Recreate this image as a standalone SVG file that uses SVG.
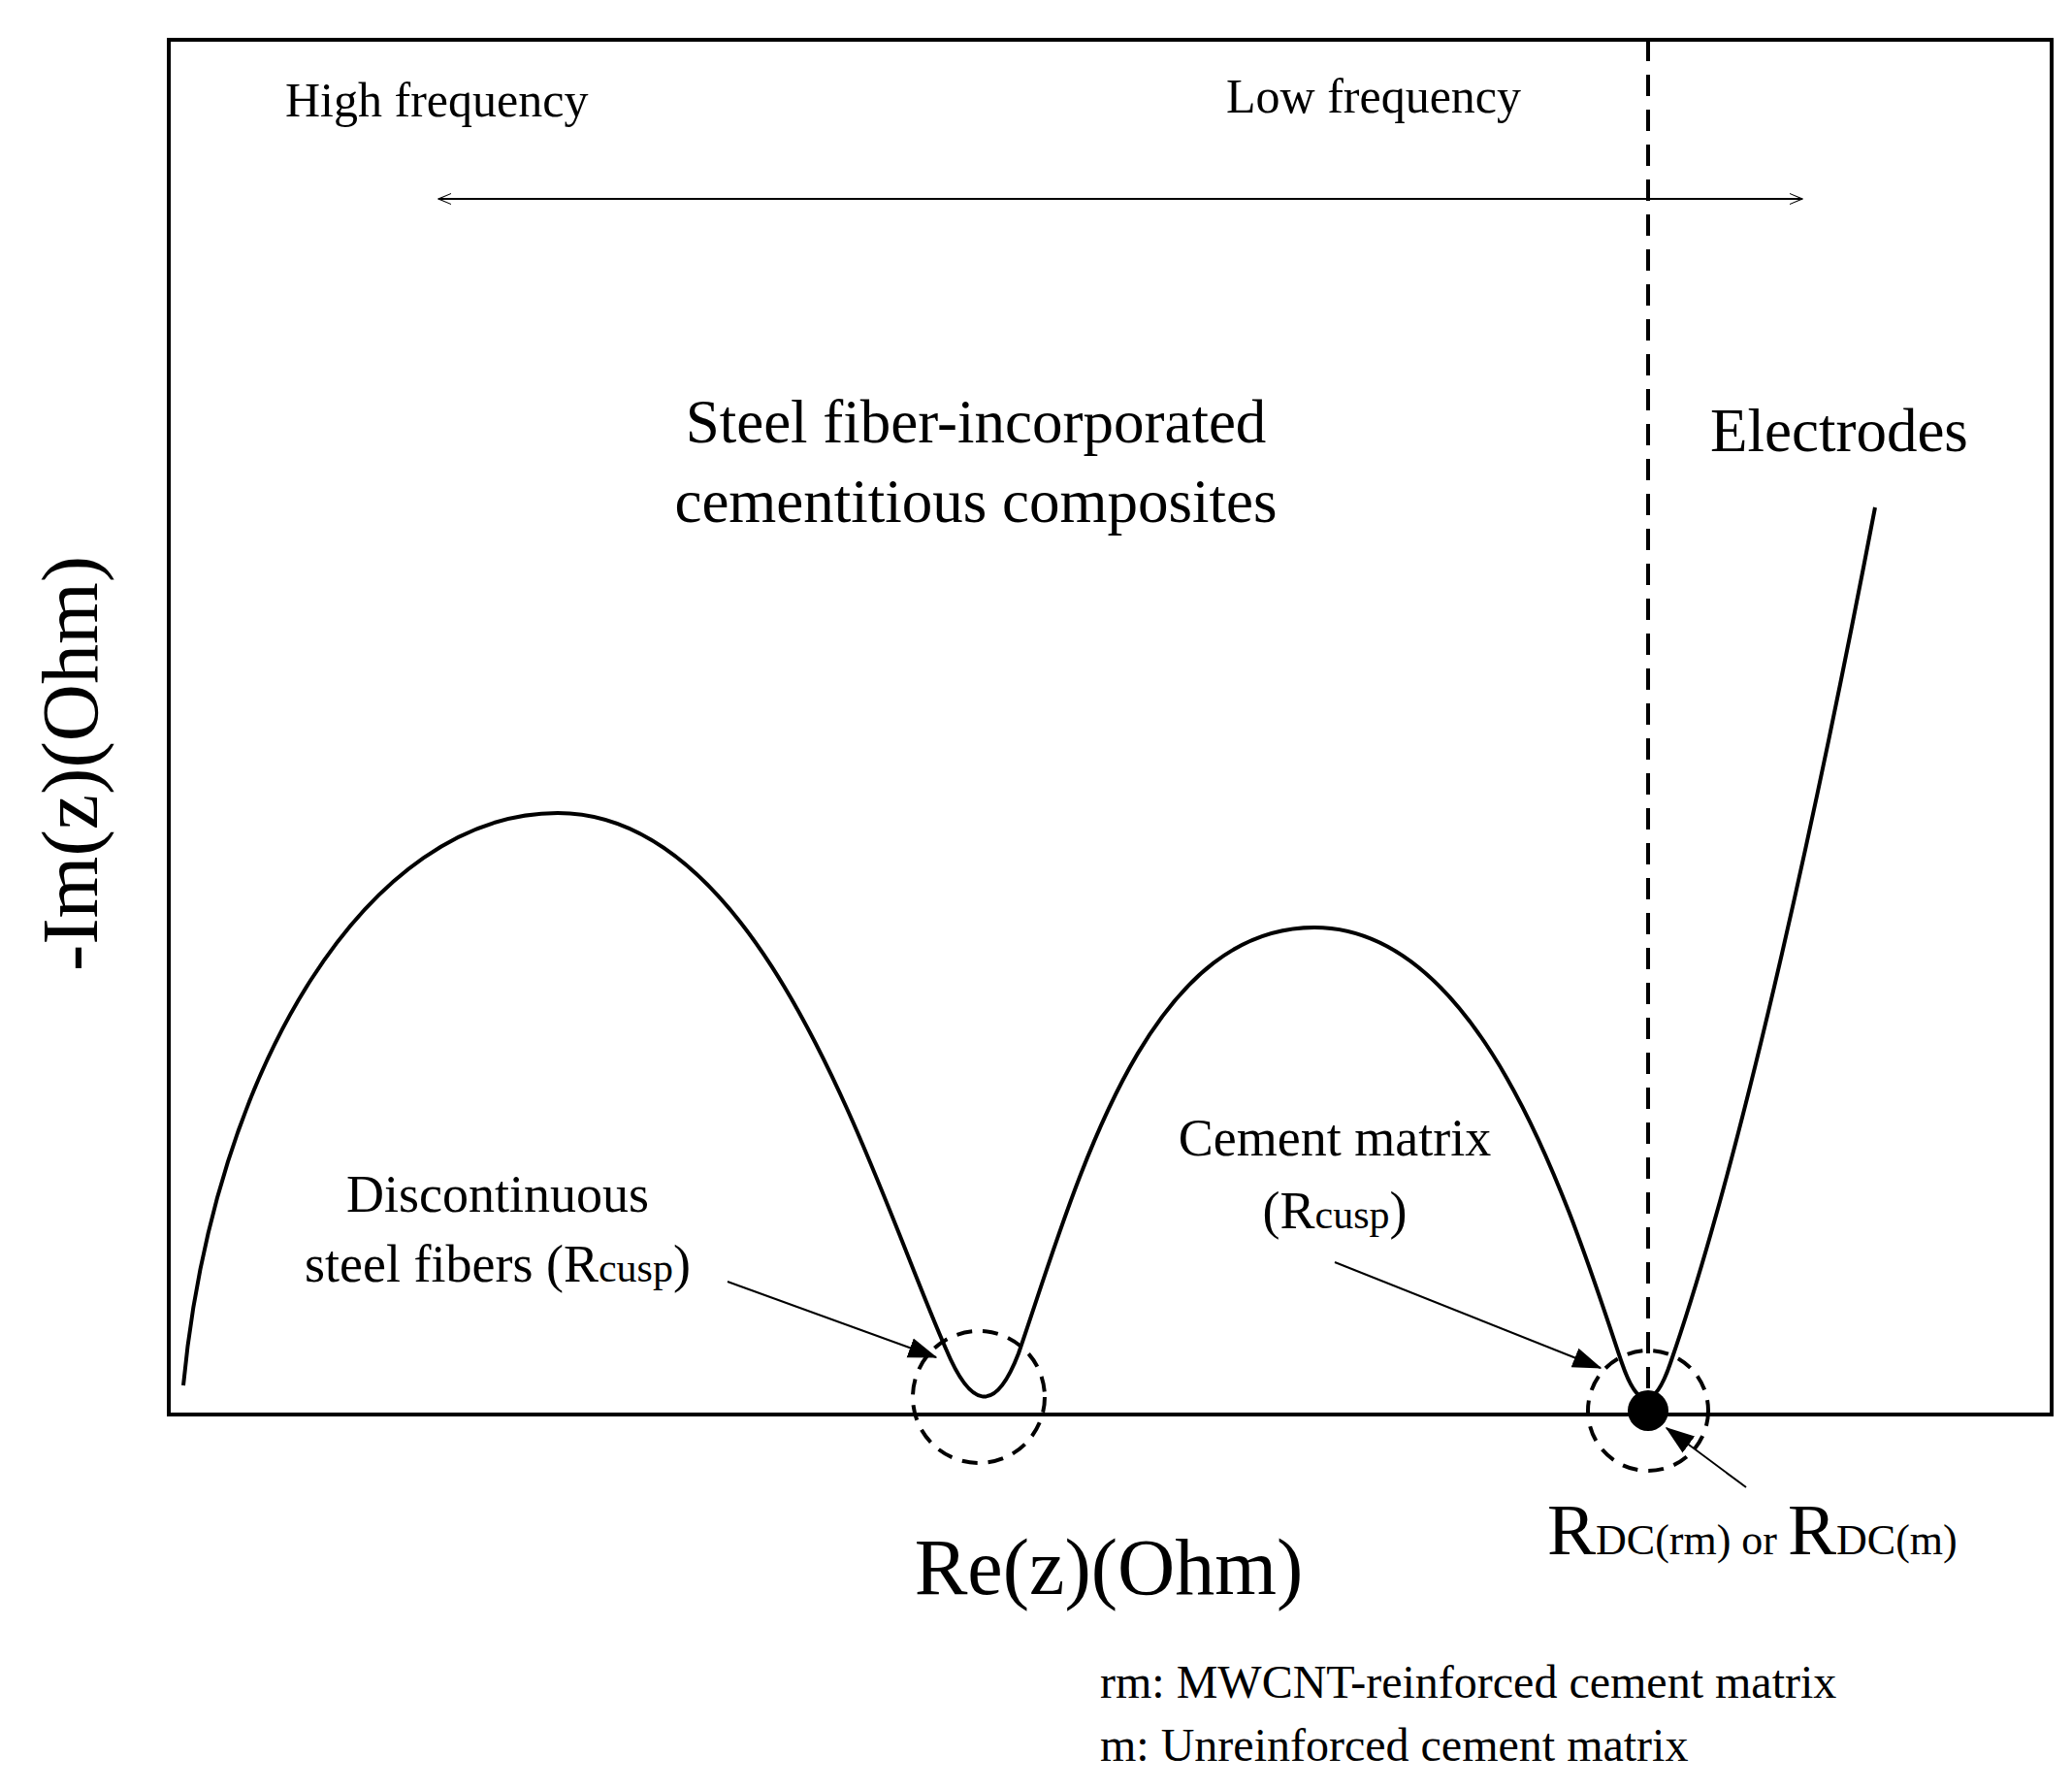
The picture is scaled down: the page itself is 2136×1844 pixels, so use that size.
<svg xmlns="http://www.w3.org/2000/svg" width="2136" height="1844" viewBox="0 0 2136 1844">
<style>
text{font-family:"Liberation Serif","Times New Roman",serif;fill:#000}
.ln{fill:none;stroke:#000}
</style>
<defs>
<marker id="open" viewBox="0 0 20 20" refX="19" refY="10" markerWidth="14" markerHeight="14" markerUnits="userSpaceOnUse" orient="auto-start-reverse"><path d="M0,2 L19,10 L0,18" fill="none" stroke="#000" stroke-width="1.5"/></marker>
<marker id="fill" viewBox="0 0 20 20" refX="19" refY="10" markerWidth="30" markerHeight="30" markerUnits="userSpaceOnUse" orient="auto"><path d="M0,3 L20,10 L0,17 Z" fill="#000"/></marker>
</defs>
<rect width="2136" height="1844" fill="#fff"/>
<g id="frame"><rect x="174" y="41" width="1941" height="1417" class="ln" stroke-width="4"/></g>
<g id="labels">
<text x="294" y="120" font-size="50">High frequency</text>
<text x="1264" y="116" font-size="50">Low frequency</text>
<text x="1006" y="456" font-size="63" text-anchor="middle">Steel fiber-incorporated</text>
<text x="1006" y="538" font-size="63" text-anchor="middle">cementitious composites</text>
<text x="1763" y="465" font-size="63">Electrodes</text>
<text transform="translate(100,787) rotate(-90)" font-size="82" text-anchor="middle">-Im(z)(Ohm)</text>
<text x="1143" y="1643" font-size="82" text-anchor="middle">Re(z)(Ohm)</text>
<text x="513" y="1249" font-size="54" text-anchor="middle">Discontinuous</text>
<text x="513" y="1321" font-size="54" text-anchor="middle">steel fibers (R<tspan font-size="42">cusp</tspan>)</text>
<text x="1376" y="1191" font-size="54" text-anchor="middle">Cement matrix</text>
<text x="1376" y="1266" font-size="54" text-anchor="middle">(R<tspan font-size="42">cusp</tspan>)</text>
<text x="1595" y="1602" font-size="75">R<tspan font-size="44">DC(rm) or </tspan>R<tspan font-size="44">DC(m)</tspan></text>
<text x="1134" y="1750" font-size="48">rm: MWCNT-reinforced cement matrix</text>
<text x="1134" y="1815" font-size="48">m: Unreinforced cement matrix</text>
</g>
<g id="curve"><path class="ln" stroke-width="4" d="M189,1428 C220,1100 380,838 575,838 C790,838 900,1220 975,1390 C1000,1450 1025,1460 1050,1395 C1110,1220 1180,956 1355,956 C1530,956 1620,1250 1672,1405 C1688,1452 1705,1455 1722,1405 C1800,1180 1880,800 1933,523"/></g>
<g id="markers">
<circle cx="1009" cy="1440" r="68" class="ln" stroke-width="4" stroke-dasharray="16,11"/>
<circle cx="1699" cy="1454" r="62" class="ln" stroke-width="4" stroke-dasharray="16,11"/>
<circle cx="1699" cy="1454" r="21" fill="#000"/>
</g>
<g id="connectors">
<line x1="452" y1="205" x2="1858" y2="205" class="ln" stroke-width="2" marker-start="url(#open)" marker-end="url(#open)"/>
<line x1="1699" y1="41" x2="1699" y2="1440" class="ln" stroke-width="4" stroke-dasharray="22,14"/>
<line x1="750" y1="1321" x2="965" y2="1399" class="ln" stroke-width="2" marker-end="url(#fill)"/>
<line x1="1376" y1="1301" x2="1650" y2="1410" class="ln" stroke-width="2" marker-end="url(#fill)"/>
<line x1="1800" y1="1533" x2="1718" y2="1472" class="ln" stroke-width="2" marker-end="url(#fill)"/>
</g>
</svg>
